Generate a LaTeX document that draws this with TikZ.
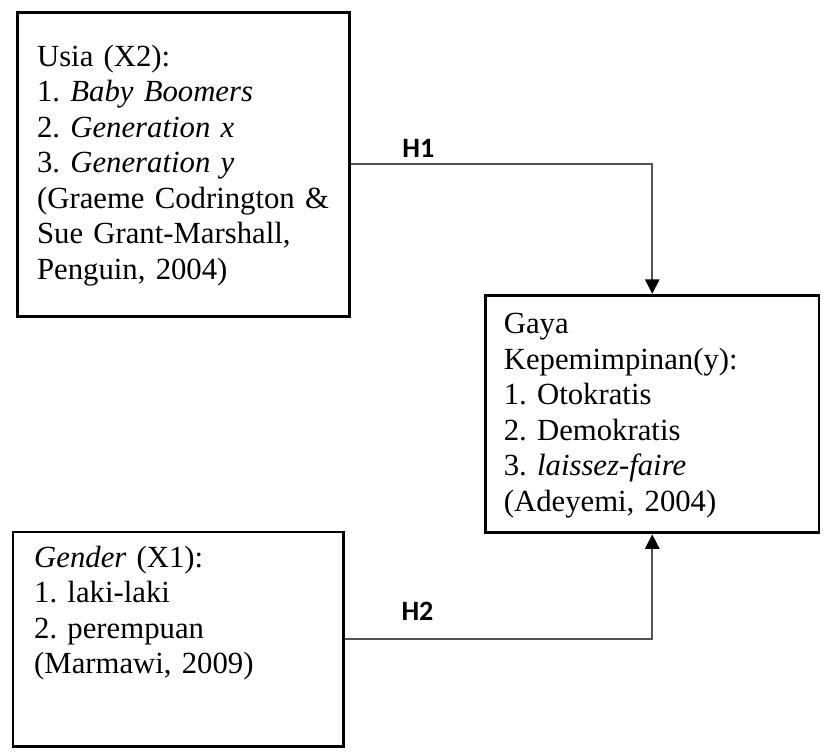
\documentclass[tikz,border=0pt]{standalone}
\usepackage{fontspec}
\setmainfont{Liberation Serif}
\newfontfamily\calibri{Carlito}
\usetikzlibrary{arrows.meta}
\frenchspacing
\begin{document}
\begin{tikzpicture}[x=0.5pt,y=-0.5pt,
  boxst/.style={draw=black, line width=1.5pt, inner sep=0pt, anchor=north west},
  txt/.style={anchor=north west, inner sep=0pt, align=left, text width=165pt,
    font=\fontsize{15.9pt}{18.35pt}\selectfont\frenchspacing},
  link/.style={draw=black!68, line width=0.85pt,
    -{Triangle[length=7.5pt,width=7.5pt,fill=black,color=black]}},
  hlab/.style={font=\calibri\bfseries\fontsize{14.5pt}{16pt}\selectfont, anchor=base, inner sep=0pt}]
\useasboundingbox (0,0) rectangle (861,782);
\fill[white] (0,0) rectangle (861,782);
% boxes
\node[boxst, minimum width=171.5pt, minimum height=157.5pt] (b1) at (17,11) {};
\node[boxst, minimum width=172.5pt, minimum height=123pt] (b2) at (501,304) {};
\node[boxst, minimum width=171pt, minimum height=111pt] (b3) at (12,549) {};
% texts
\node[txt] (t1) at (38,42.3) {\rule{0pt}{13pt}Usia (X2):\\
1. \textit{Baby Boomers}\\
2. \textit{Generation x}\\
3. \textit{Generation y}\\
(Graeme Codrington \&\\
Sue Grant-Marshall,\\
Penguin, 2004)};
\node[txt] (t2) at (521,319) {\rule{0pt}{13pt}Gaya\\
Kepemimpinan(y):\\
1. Otokratis\\
2. Demokratis\\
3. \textit{laissez-faire}\\
(Adeyemi, 2004)};
\node[txt] (t3) at (35,560.7) {\rule{0pt}{13pt}\textit{Gender} (X1):\\
1. laki-laki\\
2. perempuan\\
(Marmawi, 2009)};
% connectors
\draw[link] (b1.east) -| (b2.north);
\draw[link] (b3.east) -| (b2.south);
\node[hlab] (h1) at (433,163) {H1};
\node[hlab] (h2) at (432,642) {H2};
\end{tikzpicture}
\end{document}
